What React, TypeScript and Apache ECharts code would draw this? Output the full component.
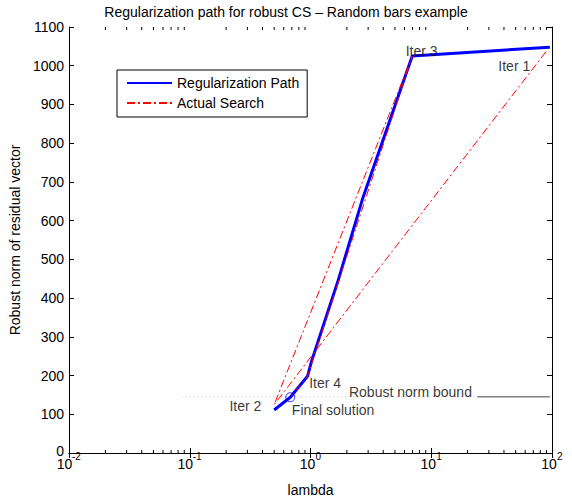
import React, { useEffect, useRef } from "react";
import * as echarts from "echarts";

// ---- data ----
const titleText = "Regularization path for robust CS \u2013 Random bars example";
const xName = "lambda";
const yName = "Robust norm of residual vector";

const yTicks = [0, 100, 200, 300, 400, 500, 600, 700, 800, 900, 1000, 1100];
const xDecades = [0.01, 0.1, 1, 10, 100];

// Regularization path (blue)
const pathLambda = [0.5, 0.68, 0.944, 1.02, 1.68, 2.69, 6.96, 96];
const pathNorm = [111, 144, 198, 237, 442, 655, 1025, 1048];

// Actual search (red dash-dot): Iter 1 -> Iter 2 -> Iter 3 -> Iter 4 -> final
const searchLambda = [89, 0.5, 6.96, 0.944, 0.68];
const searchNorm = [1036, 125, 1025, 198, 144];

// Robust norm bound
const boundNorm = 145;
const boundDottedLambda = [0.085, 24];
const boundSolidLambda = [24, 96];

// Final solution marker
const finalLambda = 0.68;
const finalNorm = 144;

// Annotations
const annoText = ["Iter 1", "Iter 2", "Iter 3", "Iter 4", "Final solution", "Robust norm bound"];
const annoLambda = [35.9, 0.213, 6.14, 0.973, 0.70, 2.08];
const annoNorm = [1000, 121, 1037, 180, 110, 157];

const FONT = "'Liberation Sans', Arial, Helvetica, sans-serif";

export default function App() {
  const ref = useRef<HTMLDivElement>(null);
  useEffect(() => {
    if (!ref.current) return;
    const chart = echarts.init(ref.current, undefined, { renderer: "svg" });
    const yMin = yTicks[0];
    const yMax = yTicks[yTicks.length - 1];
    const xMin = xDecades[0];
    const xMax = xDecades[xDecades.length - 1];

    const minorTicks: number[] = [];
    for (let d = 0; d < xDecades.length - 1; d++) {
      for (let m = 2; m <= 9; m++) minorTicks.push(xDecades[d] * m);
    }

    const expOf = (v: number) => Math.round(Math.log10(v));
    const baseLabel = (v: number) => (expOf(v) < 0 ? "{n|10}" : "{p|10}");
    const expLabel = (v: number) => (expOf(v) < 0 ? `{en|${expOf(v)}}` : `{ep|${expOf(v)}}`);

    const logAxisCommon = {
      type: "log",
      logBase: 10,
      min: xMin,
      max: xMax,
      splitLine: { show: false },
    };

    const option: any = {
      animation: false,
      backgroundColor: "#fff",
      textStyle: { fontFamily: FONT },
      title: {
        text: titleText,
        left: "center",
        top: 0,
        textStyle: { fontFamily: FONT, fontSize: 14, fontWeight: "normal", color: "#000" },
      },
      legend: {
        data: ["Regularization Path", "Actual Search"],
        orient: "vertical",
        left: 117,
        top: 70,
        padding: [6, 8, 7, 9],
        itemWidth: 45,
        itemHeight: 14,
        itemGap: 6,
        borderColor: "#000",
        borderWidth: 1,
        borderRadius: 0,
        backgroundColor: "#fff",
        itemStyle: { opacity: 0, color: "rgba(0,0,0,0)", borderWidth: 0 },
        textStyle: { fontFamily: FONT, fontSize: 14, color: "#000", lineHeight: 14 },
      },
      grid: { left: 67, right: 20, top: 27, bottom: 47, containLabel: false },
      xAxis: [
        {
          ...logAxisCommon,
          position: "bottom",
          name: xName,
          nameLocation: "middle",
          nameGap: 30,
          nameTextStyle: { fontFamily: FONT, fontSize: 14, color: "#000" },
          axisLine: { show: true, lineStyle: { color: "#000", width: 1 } },
          axisTick: { show: true, inside: true, length: 5, lineStyle: { color: "#000" } },
          axisLabel: {
            show: true,
            margin: 6,
            color: "#000",
            formatter: baseLabel,
            rich: {
              n: { fontFamily: FONT, fontSize: 14, lineHeight: 10, padding: [0, 9, 0, 0], color: "#000" },
              p: { fontFamily: FONT, fontSize: 14, lineHeight: 10, padding: [0, 6, 0, 0], color: "#000" },
            },
          },
        },
        {
          ...logAxisCommon,
          position: "top",
          axisLine: { show: true, lineStyle: { color: "#000", width: 1 } },
          axisTick: { show: true, inside: true, length: 5, lineStyle: { color: "#000" } },
          axisLabel: { show: false },
        },
        {
          ...logAxisCommon,
          position: "bottom",
          axisLine: { show: false },
          axisTick: { show: false },
          axisLabel: {
            show: true,
            margin: -1,
            align: "left",
            color: "#000",
            formatter: expLabel,
            rich: {
              en: { fontFamily: FONT, fontSize: 10, lineHeight: 9, padding: [0, 0, 0, 3], color: "#000" },
              ep: { fontFamily: FONT, fontSize: 10, lineHeight: 9, padding: [0, 0, 0, 5], color: "#000" },
            },
          },
        },
      ],
      yAxis: [
        {
          type: "value",
          min: yMin,
          max: yMax,
          interval: 100,
          position: "left",
          name: yName,
          nameLocation: "middle",
          nameGap: 45,
          nameTextStyle: { fontFamily: FONT, fontSize: 14, color: "#000" },
          axisLine: { show: true, lineStyle: { color: "#000", width: 1 } },
          axisTick: { show: true, inside: true, length: 5, lineStyle: { color: "#000" } },
          splitLine: { show: false },
          axisLabel: {
            margin: 5,
            color: "#000",
            fontFamily: FONT,
            fontSize: 14,
            lineHeight: 10,
            formatter: (v: number) => (v === yMin ? `{z|${v}}` : String(v)),
            rich: {
              z: { fontFamily: FONT, fontSize: 14, lineHeight: 10, padding: [0, 0, 4, 0], color: "#000" },
            },
          },
        },
        {
          type: "value",
          min: yMin,
          max: yMax,
          interval: 100,
          position: "right",
          axisLine: { show: true, lineStyle: { color: "#000", width: 1 } },
          axisTick: { show: true, inside: true, length: 5, lineStyle: { color: "#000" } },
          splitLine: { show: false },
          axisLabel: { show: false },
        },
      ],
      series: [
        {
          name: "minorTicks",
          type: "custom",
          xAxisIndex: 0,
          yAxisIndex: 0,
          silent: true,
          data: minorTicks.map((v) => [v, yMin]),
          renderItem: (params: any, api: any) => {
            const v = api.value(0);
            const b = api.coord([v, yMin]);
            const t = api.coord([v, yMax]);
            return {
              type: "group",
              children: [
                { type: "line", shape: { x1: b[0], y1: b[1], x2: b[0], y2: b[1] - 3 }, style: { stroke: "#000", lineWidth: 1 } },
                { type: "line", shape: { x1: t[0], y1: t[1], x2: t[0], y2: t[1] + 3 }, style: { stroke: "#000", lineWidth: 1 } },
              ],
            };
          },
        },
        {
          name: "boundDotted",
          type: "line",
          silent: true,
          symbol: "none",
          data: boundDottedLambda.map((l) => [l, boundNorm]),
          lineStyle: { color: "#c4bccc", width: 1, type: [1, 3] },
        },
        {
          name: "boundSolid",
          type: "line",
          silent: true,
          symbol: "none",
          data: boundSolidLambda.map((l) => [l, boundNorm]),
          lineStyle: { color: "#4a4050", width: 1 },
        },
        {
          name: "Regularization Path",
          type: "line",
          symbol: "none",
          data: pathLambda.map((l, i) => [l, pathNorm[i]]),
          lineStyle: { color: "#0000ff", width: 3 },
          itemStyle: { color: "#0000ff" },
          z: 3,
        },
        {
          name: "Actual Search",
          type: "line",
          symbol: "none",
          data: searchLambda.map((l, i) => [l, searchNorm[i]]),
          lineStyle: { color: "#ff0000", width: 1, type: [8, 3, 2, 3] },
          itemStyle: { color: "#ff0000" },
          z: 4,
        },
        {
          name: "final",
          type: "scatter",
          symbol: "circle",
          symbolSize: 9,
          silent: true,
          data: [[finalLambda, finalNorm]],
          itemStyle: { color: "rgba(0,0,0,0)", borderColor: "#0000ff", borderWidth: 1 },
          z: 5,
        },
        {
          name: "annotations",
          type: "scatter",
          symbolSize: 0.1,
          silent: true,
          itemStyle: { color: "rgba(0,0,0,0)" },
          data: annoText.map((t, i) => ({ name: t, value: [annoLambda[i], annoNorm[i]] })),
          label: {
            show: true,
            position: "right",
            distance: 0,
            formatter: "{b}",
            color: "#000",
            fontFamily: FONT,
            fontSize: 14,
          },
          z: 6,
        },
      ],
    };
    chart.setOption(option);
    return () => chart.dispose();
  }, []);
  return <div ref={ref} style={{ position: "fixed", left: 0, top: 0, width: 572, height: 502 }} />;
}
